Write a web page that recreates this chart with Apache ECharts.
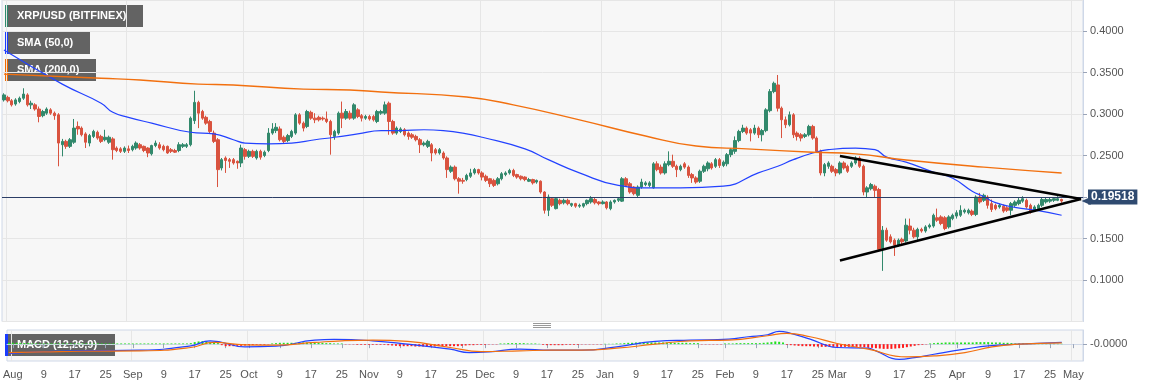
<!DOCTYPE html>
<html><head><meta charset="utf-8">
<script src="https://cdn.jsdelivr.net/npm/echarts@6/dist/echarts.min.js"></script>
<style>html,body{margin:0;padding:0;background:#fff}#c{width:1153px;height:386px}</style>
</head><body><div id="c"></div>
<script>
// ---- categories: one per day, 2019-07-31 .. 2020-05-03 ----
const firstDay = [2019, 6, 31];
const dayCount = 278;
const monthNames = ['Jan','Feb','Mar','Apr','May','Jun','Jul','Aug','Sep','Oct','Nov','Dec'];
const labelDays = [1, 9, 17, 25];
const yTicks = [0.1, 0.15, 0.2, 0.25, 0.3, 0.35, 0.4];

// ---- daily candles [open, close, low, high] ----
const jul = [[0.317,0.323,0.315,0.325]];
const aug = [[0.320,0.316,0.314,0.322],[0.316,0.311,0.309,0.318],[0.312,0.317,0.310,0.319],[0.315,0.319,0.313,0.321],[0.319,0.324,0.317,0.331],[0.323,0.311,0.309,0.325],[0.311,0.313,0.306,0.316],[0.311,0.306,0.304,0.313],[0.306,0.297,0.290,0.309],[0.298,0.303,0.296,0.305],[0.301,0.306,0.299,0.308],[0.305,0.301,0.299,0.307],[0.301,0.298,0.293,0.303],[0.299,0.265,0.237,0.301],[0.263,0.267,0.249,0.270],[0.267,0.261,0.258,0.269],[0.261,0.269,0.259,0.271],[0.266,0.283,0.264,0.294],[0.285,0.282,0.275,0.291],[0.283,0.275,0.273,0.285],[0.276,0.266,0.259,0.278],[0.265,0.274,0.261,0.276],[0.273,0.279,0.271,0.281],[0.278,0.271,0.269,0.280],[0.273,0.267,0.265,0.275],[0.269,0.272,0.267,0.281],[0.266,0.272,0.264,0.274],[0.270,0.257,0.245,0.272],[0.259,0.256,0.254,0.261],[0.258,0.255,0.253,0.260],[0.255,0.259,0.253,0.261]];
const sep = [[0.258,0.256,0.253,0.262],[0.257,0.261,0.255,0.263],[0.259,0.265,0.257,0.267],[0.263,0.259,0.257,0.265],[0.261,0.256,0.254,0.262],[0.259,0.253,0.248,0.260],[0.252,0.262,0.250,0.263],[0.262,0.265,0.260,0.268],[0.263,0.259,0.257,0.266],[0.261,0.257,0.255,0.263],[0.261,0.253,0.252,0.262],[0.257,0.255,0.253,0.259],[0.256,0.254,0.253,0.258],[0.256,0.263,0.254,0.266],[0.261,0.263,0.259,0.265],[0.261,0.263,0.259,0.265],[0.263,0.295,0.261,0.297],[0.292,0.314,0.288,0.328],[0.314,0.301,0.283,0.316],[0.303,0.295,0.293,0.305],[0.296,0.289,0.287,0.298],[0.291,0.279,0.277,0.293],[0.277,0.267,0.265,0.280],[0.269,0.233,0.212,0.271],[0.235,0.245,0.232,0.247],[0.247,0.244,0.229,0.249],[0.245,0.243,0.235,0.247],[0.245,0.241,0.239,0.247],[0.243,0.241,0.234,0.244],[0.241,0.259,0.236,0.263]];
const oct = [[0.257,0.249,0.245,0.259],[0.249,0.255,0.247,0.257],[0.255,0.249,0.247,0.257],[0.247,0.255,0.245,0.257],[0.255,0.248,0.245,0.257],[0.250,0.254,0.248,0.256],[0.256,0.277,0.254,0.283],[0.277,0.282,0.275,0.289],[0.280,0.284,0.277,0.289],[0.282,0.269,0.267,0.285],[0.272,0.267,0.264,0.274],[0.268,0.274,0.266,0.276],[0.273,0.279,0.271,0.281],[0.277,0.299,0.275,0.301],[0.299,0.289,0.287,0.301],[0.289,0.283,0.279,0.291],[0.285,0.303,0.283,0.305],[0.302,0.295,0.293,0.304],[0.295,0.293,0.289,0.301],[0.296,0.293,0.291,0.298],[0.295,0.294,0.292,0.297],[0.294,0.291,0.289,0.303],[0.291,0.275,0.251,0.293],[0.273,0.279,0.269,0.281],[0.277,0.301,0.275,0.303],[0.301,0.295,0.283,0.315],[0.295,0.303,0.293,0.306],[0.301,0.295,0.293,0.304],[0.295,0.311,0.293,0.313],[0.305,0.297,0.295,0.307],[0.298,0.295,0.291,0.300]];
const nov = [[0.295,0.297,0.293,0.299],[0.297,0.294,0.292,0.299],[0.297,0.293,0.291,0.299],[0.291,0.303,0.289,0.305],[0.301,0.303,0.299,0.305],[0.301,0.311,0.299,0.315],[0.313,0.291,0.275,0.315],[0.291,0.277,0.275,0.293],[0.277,0.283,0.275,0.285],[0.279,0.282,0.277,0.284],[0.281,0.275,0.273,0.283],[0.277,0.273,0.269,0.279],[0.275,0.272,0.270,0.277],[0.273,0.269,0.267,0.275],[0.269,0.263,0.253,0.271],[0.263,0.265,0.261,0.267],[0.261,0.267,0.259,0.269],[0.263,0.253,0.243,0.265],[0.257,0.253,0.251,0.259],[0.253,0.257,0.251,0.259],[0.253,0.247,0.245,0.255],[0.247,0.233,0.223,0.249],[0.231,0.236,0.229,0.238],[0.236,0.222,0.220,0.238],[0.222,0.219,0.204,0.224],[0.220,0.219,0.216,0.223],[0.221,0.226,0.219,0.228],[0.225,0.229,0.223,0.234],[0.229,0.233,0.227,0.235],[0.233,0.229,0.227,0.234]];
const dec = [[0.229,0.224,0.220,0.231],[0.225,0.220,0.218,0.227],[0.222,0.216,0.212,0.223],[0.220,0.214,0.212,0.222],[0.216,0.222,0.214,0.224],[0.222,0.228,0.220,0.230],[0.227,0.229,0.225,0.231],[0.229,0.232,0.227,0.234],[0.232,0.226,0.224,0.234],[0.227,0.224,0.222,0.228],[0.225,0.222,0.220,0.226],[0.224,0.221,0.219,0.225],[0.219,0.221,0.218,0.223],[0.221,0.217,0.215,0.222],[0.218,0.220,0.216,0.221],[0.219,0.206,0.204,0.220],[0.206,0.184,0.180,0.207],[0.184,0.200,0.177,0.203],[0.198,0.190,0.188,0.200],[0.186,0.198,0.185,0.200],[0.196,0.192,0.190,0.198],[0.193,0.196,0.191,0.198],[0.196,0.192,0.190,0.198],[0.190,0.192,0.188,0.193],[0.192,0.189,0.187,0.193],[0.189,0.190,0.187,0.192],[0.189,0.192,0.187,0.193],[0.192,0.196,0.190,0.197],[0.194,0.198,0.192,0.201],[0.197,0.193,0.191,0.199],[0.194,0.192,0.190,0.195]];
const jan = [[0.192,0.194,0.191,0.196],[0.194,0.187,0.185,0.195],[0.186,0.194,0.184,0.196],[0.194,0.196,0.192,0.197],[0.196,0.198,0.194,0.200],[0.195,0.222,0.194,0.224],[0.222,0.214,0.212,0.224],[0.216,0.206,0.204,0.218],[0.212,0.204,0.202,0.213],[0.202,0.212,0.200,0.214],[0.212,0.218,0.210,0.222],[0.215,0.217,0.213,0.219],[0.214,0.217,0.212,0.219],[0.211,0.240,0.210,0.242],[0.240,0.233,0.231,0.243],[0.236,0.229,0.227,0.239],[0.229,0.240,0.227,0.243],[0.239,0.243,0.237,0.255],[0.243,0.237,0.235,0.251],[0.237,0.233,0.224,0.239],[0.233,0.237,0.231,0.239],[0.240,0.236,0.234,0.242],[0.236,0.226,0.223,0.238],[0.227,0.223,0.217,0.229],[0.223,0.218,0.216,0.225],[0.219,0.231,0.217,0.233],[0.231,0.237,0.229,0.239],[0.234,0.241,0.231,0.243],[0.240,0.235,0.233,0.242],[0.237,0.245,0.235,0.247],[0.245,0.238,0.235,0.247]];
const feb = [[0.238,0.242,0.236,0.244],[0.240,0.251,0.237,0.253],[0.251,0.257,0.248,0.259],[0.255,0.268,0.252,0.273],[0.268,0.279,0.266,0.281],[0.279,0.283,0.277,0.287],[0.283,0.277,0.275,0.285],[0.281,0.277,0.267,0.283],[0.277,0.283,0.275,0.287],[0.283,0.275,0.271,0.285],[0.275,0.280,0.267,0.282],[0.280,0.305,0.278,0.307],[0.304,0.327,0.302,0.330],[0.327,0.337,0.325,0.339],[0.335,0.307,0.303,0.347],[0.307,0.293,0.271,0.309],[0.293,0.287,0.283,0.297],[0.287,0.299,0.285,0.303],[0.299,0.275,0.271,0.301],[0.277,0.273,0.268,0.279],[0.275,0.271,0.267,0.277],[0.273,0.275,0.271,0.277],[0.275,0.285,0.273,0.287],[0.285,0.271,0.269,0.287],[0.271,0.255,0.253,0.273],[0.255,0.229,0.226,0.257],[0.229,0.239,0.225,0.241],[0.237,0.241,0.234,0.243],[0.237,0.231,0.229,0.239]];
const mar = [[0.233,0.229,0.225,0.235],[0.229,0.241,0.227,0.243],[0.241,0.235,0.233,0.243],[0.237,0.231,0.229,0.239],[0.237,0.241,0.235,0.243],[0.241,0.247,0.239,0.249],[0.247,0.237,0.235,0.249],[0.237,0.206,0.202,0.239],[0.206,0.211,0.200,0.213],[0.210,0.215,0.208,0.217],[0.213,0.208,0.200,0.215],[0.209,0.137,0.134,0.211],[0.138,0.160,0.111,0.165],[0.160,0.148,0.146,0.163],[0.152,0.146,0.144,0.155],[0.148,0.142,0.129,0.150],[0.142,0.148,0.140,0.150],[0.149,0.146,0.143,0.151],[0.147,0.166,0.145,0.174],[0.165,0.160,0.155,0.174],[0.160,0.152,0.150,0.163],[0.152,0.161,0.148,0.163],[0.161,0.159,0.157,0.163],[0.159,0.164,0.157,0.166],[0.164,0.166,0.162,0.168],[0.165,0.178,0.163,0.180],[0.175,0.172,0.170,0.186],[0.176,0.168,0.166,0.178],[0.175,0.162,0.160,0.177],[0.164,0.176,0.162,0.178],[0.174,0.178,0.172,0.180]];
const apr = [[0.177,0.181,0.174,0.184],[0.178,0.184,0.176,0.190],[0.182,0.184,0.180,0.186],[0.181,0.184,0.179,0.186],[0.183,0.179,0.177,0.185],[0.179,0.200,0.177,0.202],[0.200,0.194,0.192,0.205],[0.196,0.202,0.194,0.204],[0.200,0.190,0.186,0.202],[0.192,0.185,0.182,0.197],[0.190,0.186,0.184,0.192],[0.188,0.190,0.186,0.192],[0.189,0.183,0.181,0.191],[0.187,0.184,0.182,0.189],[0.184,0.192,0.178,0.194],[0.190,0.194,0.188,0.196],[0.192,0.196,0.190,0.199],[0.195,0.198,0.193,0.201],[0.196,0.188,0.186,0.198],[0.190,0.182,0.180,0.192],[0.184,0.188,0.182,0.190],[0.186,0.190,0.184,0.192],[0.190,0.197,0.188,0.200],[0.194,0.197,0.192,0.199],[0.195,0.197,0.193,0.199],[0.196,0.198,0.194,0.200],[0.196,0.198,0.195,0.201],[0.197,0.19518,0.193,0.198]];
const lastPrice = 0.19518;

// ---- moving averages [date, value] ----
const sma50 = [['2019-07-31',0.377],['2019-08-15',0.336],['2019-08-25',0.313],['2019-08-28',0.302],['2019-09-01',0.296],['2019-09-07',0.289],['2019-09-17',0.278],['2019-09-23',0.276],['2019-09-28',0.269],['2019-10-01',0.265],['2019-10-07',0.264],['2019-10-13',0.265],['2019-10-19',0.269],['2019-10-24',0.272],['2019-10-30',0.276],['2019-11-05',0.280],['2019-11-10',0.280],['2019-11-16',0.281],['2019-11-21',0.280],['2019-11-26',0.277],['2019-12-01',0.272],['2019-12-12',0.258],['2019-12-18',0.245],['2019-12-26',0.229],['2020-01-05',0.214],['2020-01-13',0.211],['2020-01-21',0.211],['2020-02-01',0.213],['2020-02-10',0.229],['2020-02-15',0.237],['2020-02-19',0.245],['2020-02-24',0.253],['2020-02-28',0.257],['2020-03-06',0.259],['2020-03-11',0.257],['2020-03-14',0.248],['2020-03-19',0.242],['2020-03-26',0.230],['2020-03-31',0.2225],['2020-04-05',0.207],['2020-04-08',0.2004],['2020-04-11',0.1932],['2020-04-16',0.1875],['2020-04-22',0.1835],['2020-04-28',0.178]];
const sma200 = [['2019-07-31',0.348],['2019-08-25',0.343],['2019-09-04',0.341],['2019-09-19',0.336],['2019-09-28',0.335],['2019-10-16',0.330],['2019-10-28',0.329],['2019-11-05',0.3265],['2019-11-27',0.3205],['2019-12-09',0.311],['2019-12-26',0.293],['2020-01-12',0.2735],['2020-01-25',0.2614],['2020-02-07',0.258],['2020-02-24',0.254],['2020-03-06',0.252],['2020-03-19',0.2446],['2020-04-08',0.236],['2020-04-28',0.229]];

// ---- triangle trend lines ----
const upperTrend = [['2020-03-02',0.2495],['2020-05-03',0.1976]];
const lowerTrend = [['2020-03-02',0.1234],['2020-05-03',0.1976]];

// ---- MACD (12,26,9), in 0.001 units ----
const macdLine = [['2019-07-31',-28],['2019-08-09',-22],['2019-08-19',-20],['2019-09-03',-18],['2019-09-16',-5],['2019-09-21',10],['2019-09-30',-8],['2019-10-08',-6],['2019-10-18',12],['2019-10-23',14],['2019-11-02',10],['2019-11-11',0],['2019-11-22',-15],['2019-11-27',-25],['2019-12-02',-23],['2019-12-10',-15],['2019-12-18',-18],['2019-12-26',-18],['2020-01-04',-8],['2020-01-14',8],['2020-01-23',12],['2020-02-02',15],['2020-02-07',22],['2020-02-12',28],['2020-02-15',38],['2020-02-18',32],['2020-02-23',15],['2020-03-01',-10],['2020-03-09',-12],['2020-03-11',-20],['2020-03-17',-45],['2020-03-21',-40],['2020-03-26',-30],['2020-04-03',-15],['2020-04-09',-5],['2020-04-17',0],['2020-04-28',5]];
const signalLine = [['2019-07-31',-25],['2019-08-09',-23],['2019-08-19',-21],['2019-09-03',-20],['2019-09-16',-10],['2019-09-22',5],['2019-09-30',-2],['2019-10-08',-3],['2019-10-18',5],['2019-10-25',10],['2019-11-02',12],['2019-11-11',8],['2019-11-22',-10],['2019-11-30',-22],['2019-12-10',-20],['2019-12-18',-18],['2019-12-26',-18],['2020-01-04',-12],['2020-01-14',0],['2020-01-23',10],['2020-02-02',12],['2020-02-12',25],['2020-02-17',32],['2020-02-23',22],['2020-03-01',2],['2020-03-09',-15],['2020-03-19',-38],['2020-03-26',-35],['2020-04-03',-25],['2020-04-10',-8],['2020-04-17',0],['2020-04-28',4]];
const histJul = [4];
const histAug = [4,4,3,3,3,2,2,2,2,2,2,2,2,2,2,2,2,2,2,2,2,2,2,2,2,2,2,2,2,2,2];
const histSep = [2,2,2,2,2,2,2,2,2,2,2,2,2,2,2,3,6,8,9,8,7,5,3,-3,-6,-6,-6,-5,-5,-4];
const histOct = [-3,-3,-2,-2,-2,-1,2,3,4,4,4,4,4,5,5,5,5,4,4,4,3,3,2,2,2,-1,-1,-1,-2,-2,-2];
const histNov = [-2,-2,-2,-2,-2,-3,-4,-5,-6,-6,-6,-6,-7,-7,-7,-7,-7,-7,-6,-6,-6,-6,-6,-6,-5,-4,-3,-3,-2,-2];
const histDec = [-2,-1,-1,-1,2,2,3,3,3,3,3,2,2,2,1,-2,-3,-3,-3,-3,-3,-2,-2,-2,-2,-1,-1,-1,-1,-1,-1];
const histJan = [1,1,1,2,2,3,4,4,5,5,5,5,5,5,5,5,5,5,4,4,4,4,3,3,3,-1,-1,-1,-1,-1,-1];
const histFeb = [2,2,2,3,3,3,3,3,3,3,4,5,6,8,7,5,-2,-3,-4,-5,-6,-6,-6,-7,-7,-8,-8,-8,-8];
const histMar = [-8,-8,-8,-8,-8,-8,-8,-9,-10,-11,-12,-13,-14,-14,-14,-13,-12,-11,-9,-7,-5,-3,-2,-1,2,3,4,4,5,5,5];
const histApr = [5,5,5,5,5,6,6,6,6,5,5,5,4,4,3,2,2,2,2,1,1,1,1,1,1,1,1,1];

// ---- build ----
const dates = [];
for (let i = 0; i < dayCount; i++) {
  const t = new Date(Date.UTC(firstDay[0], firstDay[1], firstDay[2] + i));
  dates.push(t.toISOString().slice(0, 10));
}
const dayOf = s => +s.slice(8, 10);
const candles = [].concat(jul, aug, sep, oct, nov, dec, jan, feb, mar, apr);
const hist = [].concat(histJul, histAug, histSep, histOct, histNov, histDec, histJan, histFeb, histMar, histApr);

const UP = '#32896c', DOWN = '#d9533f', GRID = '#e6e6e6', BORDER = '#cfd8e8', TAG = '#2f4a70';
const FONT = '"Liberation Sans", Arial, sans-serif';

function legendBox(x, y, w, stripe, text) {
  return {
    type: 'group', z: 100, children: [
      { type: 'rect', shape: { x: x, y: y, width: w, height: 22 }, style: { fill: 'rgba(82,82,82,0.9)' } },
      { type: 'rect', shape: { x: x, y: y, width: 3, height: 22 }, style: { fill: stripe } },
      { type: 'text', x: x + 12, y: y + 11, style: { text: text, fill: '#fff', font: 'bold 11px ' + FONT, verticalAlign: 'middle' } }
    ]
  };
}

const chart = echarts.init(document.getElementById('c'), null, { renderer: 'canvas' });
chart.setOption({
  animation: false,
  backgroundColor: '#ffffff',
  grid: [
    { left: 2, top: 0, width: 1081, height: 321.5, show: true, backgroundColor: '#f7f7f7', borderColor: BORDER, borderWidth: 1 },
    { left: 2, top: 330, width: 1081, height: 31, show: true, backgroundColor: '#f7f7f7', borderColor: BORDER, borderWidth: 1 }
  ],
  xAxis: [
    { type: 'category', gridIndex: 0, data: dates, boundaryGap: true,
      axisLine: { show: false }, axisTick: { show: false }, axisLabel: { show: false },
      splitLine: { show: true, interval: (i, v) => dayOf(v) === 1, lineStyle: { color: GRID, width: 1 } } },
    { type: 'category', gridIndex: 1, data: dates, boundaryGap: true,
      axisLine: { show: true, lineStyle: { color: BORDER } },
      axisTick: { show: true, alignWithLabel: true, length: 4, interval: (i, v) => labelDays.indexOf(dayOf(v)) >= 0, lineStyle: { color: '#9aa4b8' } },
      axisLabel: { show: true, interval: (i, v) => labelDays.indexOf(dayOf(v)) >= 0, color: '#555', fontSize: 11, fontFamily: FONT, margin: 8,
        formatter: v => dayOf(v) === 1 ? monthNames[+v.slice(5, 7) - 1] : String(dayOf(v)) },
      splitLine: { show: true, interval: (i, v) => dayOf(v) === 1, lineStyle: { color: GRID, width: 1 } } }
  ],
  yAxis: [
    { type: 'value', gridIndex: 0, position: 'right', min: 0.05, max: 0.43735, interval: 0.05,
      axisLine: { show: true, lineStyle: { color: BORDER } },
      axisTick: { show: true, length: 4, lineStyle: { color: '#9aa4b8' } },
      axisLabel: { color: '#555', fontSize: 11, fontFamily: FONT, margin: 7, showMaxLabel: false, showMinLabel: false,
        formatter: v => yTicks.some(t => Math.abs(t - v) < 1e-6) ? v.toFixed(4) : '' },
      splitLine: { show: true, lineStyle: { color: GRID, width: 1 } } },
    { type: 'value', gridIndex: 1, position: 'right', min: -50, max: 42, interval: 50,
      axisLine: { show: true, lineStyle: { color: BORDER } },
      axisTick: { show: true, length: 4, lineStyle: { color: '#9aa4b8' } },
      axisLabel: { color: '#555', fontSize: 11, fontFamily: FONT, margin: 7, showMaxLabel: false, showMinLabel: false,
        formatter: v => v === 0 ? '-0.0000' : '' },
      splitLine: { show: false } }
  ],
  series: [
    { type: 'candlestick', xAxisIndex: 0, yAxisIndex: 0, data: candles, barWidth: 3,
      itemStyle: { color: UP, color0: DOWN, borderColor: UP, borderColor0: DOWN, borderWidth: 1 },
      markLine: { silent: true, symbol: ['none', 'none'], animation: false,
        lineStyle: { color: '#2b3d66', width: 1, type: 'solid' },
        label: { show: true, position: 'end', distance: 5, formatter: lastPrice.toFixed(5), color: '#fff', fontWeight: 'bold', fontSize: 12, fontFamily: FONT,
          backgroundColor: TAG, padding: [2, 3, 1, 3] },
        data: [{ yAxis: lastPrice }] },
      markPoint: { silent: true, animation: false, symbol: 'triangle', symbolSize: [8, 9], symbolRotate: 90, symbolOffset: [5, 0],
        itemStyle: { color: TAG }, label: { show: false },
        data: [{ coord: [dates[dates.length - 1], lastPrice] }] } },
    { type: 'line', name: 'SMA50', xAxisIndex: 0, yAxisIndex: 0, data: sma50, smooth: 0.5, showSymbol: false,
      lineStyle: { color: '#2342ff', width: 1.2 } },
    { type: 'line', name: 'SMA200', xAxisIndex: 0, yAxisIndex: 0, data: sma200, smooth: 0.5, showSymbol: false,
      lineStyle: { color: '#f2700f', width: 1.4 } },
    { type: 'line', xAxisIndex: 0, yAxisIndex: 0, data: upperTrend, showSymbol: false, lineStyle: { color: '#000', width: 2.5 }, z: 5 },
    { type: 'line', xAxisIndex: 0, yAxisIndex: 0, data: lowerTrend, showSymbol: false, lineStyle: { color: '#000', width: 2.5 }, z: 5 },
    { type: 'bar', xAxisIndex: 1, yAxisIndex: 1, data: hist, barWidth: 2,
      itemStyle: { color: p => p.value >= 0 ? '#22e01e' : '#ff1a1a' } },
    { type: 'line', xAxisIndex: 1, yAxisIndex: 1, data: macdLine, smooth: 0.5, showSymbol: false, lineStyle: { color: '#2342ff', width: 1.2 } },
    { type: 'line', xAxisIndex: 1, yAxisIndex: 1, data: signalLine, smooth: 0.5, showSymbol: false, lineStyle: { color: '#f2700f', width: 1.2 } }
  ],
  graphic: [
    legendBox(5, 5, 138, '#2e8b6e', 'XRP/USD (BITFINEX)'),
    legendBox(5, 32, 85, '#1a3cff', 'SMA (50,0)'),
    legendBox(5, 59, 91, '#f26b00', 'SMA (200,0)'),
    legendBox(5, 334, 110, '#1a3cff', 'MACD (12,26,9)'),
    { type: 'group', z: 100, children: [
      { type: 'line', shape: { x1: 533, y1: 323.5, x2: 551, y2: 323.5 }, style: { stroke: '#999', lineWidth: 1 } },
      { type: 'line', shape: { x1: 533, y1: 325.5, x2: 551, y2: 325.5 }, style: { stroke: '#999', lineWidth: 1 } },
      { type: 'line', shape: { x1: 533, y1: 327.5, x2: 551, y2: 327.5 }, style: { stroke: '#999', lineWidth: 1 } }
    ] }
  ]
});
</script></body></html>
